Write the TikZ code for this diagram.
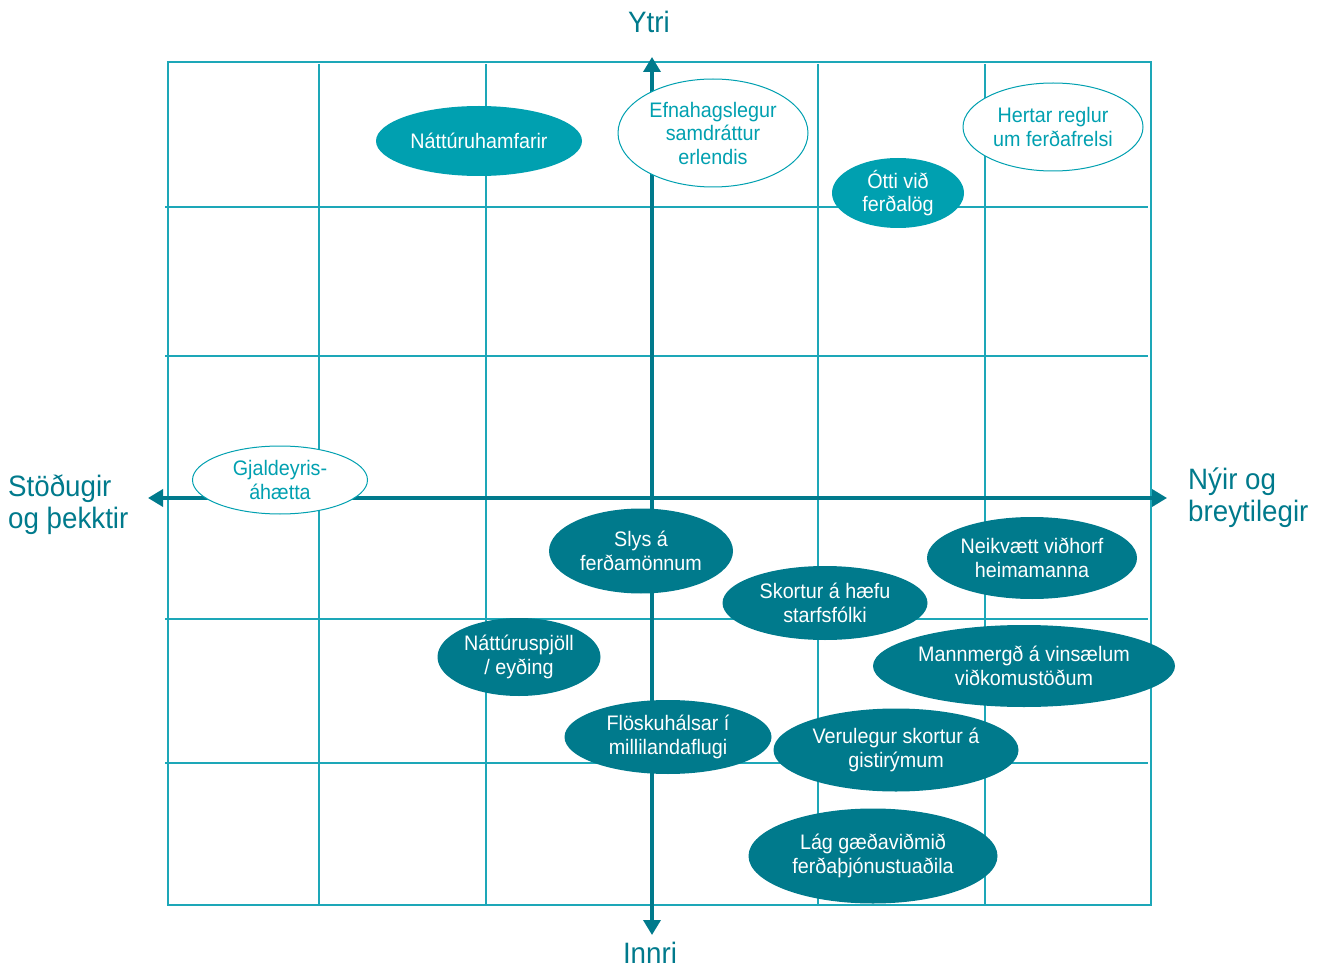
\documentclass[tikz,border=0pt]{standalone}
\usepackage{fontspec}
\setmainfont[FakeStretch=0.94]{Liberation Sans}
\usetikzlibrary{shapes.geometric,arrows.meta}
\definecolor{lightteal}{HTML}{00A0B0}
\definecolor{darkteal}{HTML}{007A8C}
\definecolor{gridteal}{HTML}{1DA7B8}
\begin{document}
\begin{tikzpicture}[x=1pt,y=-1pt,
  gridline/.style={gridteal, line width=1.2pt},
  axisline/.style={darkteal, line width=3.5pt, {Triangle[length=15pt,width=17pt]}-{Triangle[length=15pt,width=17pt]}},
  risk/.style={ellipse, inner sep=0pt, font=\fontsize{21}{23.5}\selectfont, align=center},
  lightrisk/.style={risk, fill=lightteal, text=white},
  darkrisk/.style={risk, fill=darkteal, text=white},
  openrisk/.style={risk, draw=lightteal, fill=white, text=lightteal, line width=1pt},
  axlabel/.style={darkteal, font=\fontsize{29.5}{32}\selectfont, align=left, inner sep=0pt}
]
\useasboundingbox (0,0) rectangle (1323,968);

% grid
\draw[gridline] (168,62) rectangle (1151,905);
\foreach \gx in {319,486,818,985} \draw[gridline] (\gx,64) -- (\gx,905);
\foreach \gy in {207,356,619,763} \draw[gridline] (165,\gy) -- (1148,\gy);

% axes
\coordinate (axL) at (148,498);
\coordinate (axR) at (1167,498);
\coordinate (axT) at (652,57);
\coordinate (axB) at (652,935);
\draw[axisline] (axL) -- (axR);
\draw[axisline] (axT) -- (axB);

% axis labels
\node[axlabel, anchor=center] (ytri) at (649,22) {Ytri};
\node[axlabel, anchor=center] (innri) at (650,953) {Innri};
\node[axlabel, anchor=west] (stod) at (8,505) {Stöðugir\\og þekktir};
\node[axlabel, anchor=west] (nyir) at (1188,498) {Nýir og\\breytilegir};

% risks
\node[lightrisk, minimum width=206pt, minimum height=70pt] (r1) at (479,141) {Náttúruhamfarir};
\node[openrisk, minimum width=190pt, minimum height=108pt] (r2) at (713,133) {Efnahagslegur\\samdráttur\\erlendis};
\node[openrisk, minimum width=180pt, minimum height=88pt] (r3) at (1053,127) {Hertar reglur\\um ferðafrelsi};
\node[lightrisk, minimum width=132pt, minimum height=70pt] (r4) at (898,193) {Ótti við\\ferðalög};
\node[openrisk, minimum width=175pt, minimum height=68pt] (r5) at (280,480) {Gjaldeyris-\\áhætta};
\node[darkrisk, minimum width=184pt, minimum height=85pt] (r6) at (641,551) {Slys á\\ferðamönnum};
\node[darkrisk, minimum width=210pt, minimum height=82pt] (r7) at (1032,558) {Neikvætt viðhorf\\heimamanna};
\node[darkrisk, minimum width=205pt, minimum height=74pt] (r8) at (825,603) {Skortur á hæfu\\starfsfólki};
\node[darkrisk, minimum width=163pt, minimum height=78pt] (r9) at (519,657) {Náttúruspjöll\\/ eyðing};
\node[darkrisk, minimum width=302pt, minimum height=82pt] (r10) at (1024,666) {Mannmergð á vinsælum\\viðkomustöðum};
\node[darkrisk, minimum width=207pt, minimum height=74pt] (r11) at (668,737) {Flöskuhálsar í\\millilandaflugi};
\node[darkrisk, minimum width=245pt, minimum height=83pt] (r12) at (896,750) {Verulegur skortur á\\gistirýmum};
\node[darkrisk, minimum width=249pt, minimum height=95pt] (r13) at (873,856) {Lág gæðaviðmið\\ferðaþjónustuaðila};
\end{tikzpicture}
\end{document}
